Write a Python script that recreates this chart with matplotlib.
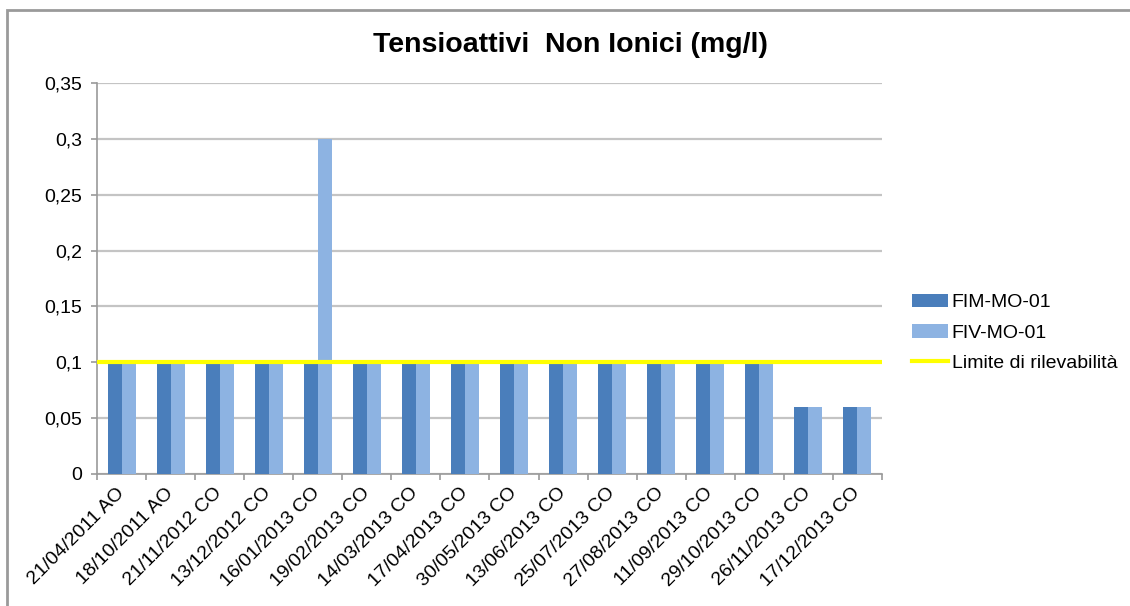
import numpy as np
import matplotlib.pyplot as plt
from matplotlib.patches import Rectangle

plt.rcParams['font.family'] = ['Liberation Sans', 'DejaVu Sans']

dates = ['21/04/2011 AO', '18/10/2011 AO', '21/11/2012 CO', '13/12/2012 CO',
         '16/01/2013 CO', '19/02/2013 CO', '14/03/2013 CO', '17/04/2013 CO',
         '30/05/2013 CO', '13/06/2013 CO', '25/07/2013 CO', '27/08/2013 CO',
         '11/09/2013 CO', '29/10/2013 CO', '26/11/2013 CO', '17/12/2013 CO']
fim = [0.1, 0.1, 0.1, 0.1, 0.1, 0.1, 0.1, 0.1, 0.1, 0.1, 0.1, 0.1, 0.1, 0.1, 0.06, 0.06]
fiv = [0.1, 0.1, 0.1, 0.1, 0.3, 0.1, 0.1, 0.1, 0.1, 0.1, 0.1, 0.1, 0.1, 0.1, 0.06, 0.06]
limite = 0.1
yticks = [0, 0.05, 0.1, 0.15, 0.2, 0.25, 0.3, 0.35]
ylabels = ['0', '0,05', '0,1', '0,15', '0,2', '0,25', '0,3', '0,35']

W, H = 1130, 606
fig = plt.figure(figsize=(W / 100, H / 100), dpi=100)
ax = fig.add_axes([97/W, 1 - 474/H, 785/W, 391/H])

# outer chart frame (runs off the right and bottom edges)
fig.patches.append(Rectangle((7/W, -0.05), 1.1, 1 - 10/H + 0.05, transform=fig.transFigure,
                             fill=False, edgecolor='#9a9a9a', linewidth=2))

x = np.arange(len(dates))
w = 0.285
b1 = ax.bar(x - w/2, fim, w, color='#4a7ebb', label='FIM-MO-01', zorder=3)
b2 = ax.bar(x + w/2, fiv, w, color='#8db3e2', label='FIV-MO-01', zorder=3)
ln, = ax.plot([-0.5, len(dates) - 0.5], [limite, limite], color='#ffff00', linewidth=3,
              label='Limite di rilevabilità', zorder=4)

ax.set_xlim(-0.5, len(dates) - 0.5)
ax.set_ylim(0, 0.35)
ax.set_yticks(yticks)
ax.set_yticklabels(ylabels, fontsize=14)
ax.yaxis.grid(True, color='#c4c4c4', linewidth=1.6, zorder=0)
ax.tick_params(axis='y', length=4.5, width=1.2, color='#9a9a9a', pad=6)

ax.set_xticks(np.arange(-0.5, len(dates), 1))
ax.set_xticklabels([])
ax.set_xticks(x, minor=True)
ax.set_xticklabels(dates, minor=True, rotation=45, ha='right', va='center',
                   rotation_mode='anchor', fontsize=14)
ax.tick_params(axis='x', which='major', length=4.5, width=1.2, color='#9a9a9a')
ax.tick_params(axis='x', which='minor', length=0, pad=12)

for s in ['top', 'right']:
    ax.spines[s].set_visible(False)
for s in ['left', 'bottom']:
    ax.spines[s].set_color('#9a9a9a')
    ax.spines[s].set_linewidth(1.2)

fig.text(570/W, 1 - 45/H, 'Tensioattivi  Non Ionici (mg/l)', fontsize=20.5,
         fontweight='bold', ha='center', va='center')

ax.legend(handles=[b1, b2, ln], loc='upper left', bbox_to_anchor=(904/W, 1 - 286/H),
          bbox_transform=fig.transFigure, frameon=False, fontsize=14, handlelength=1.85,
          handletextpad=0.2, labelspacing=0.65, borderaxespad=0)

fig.savefig('out.png')
